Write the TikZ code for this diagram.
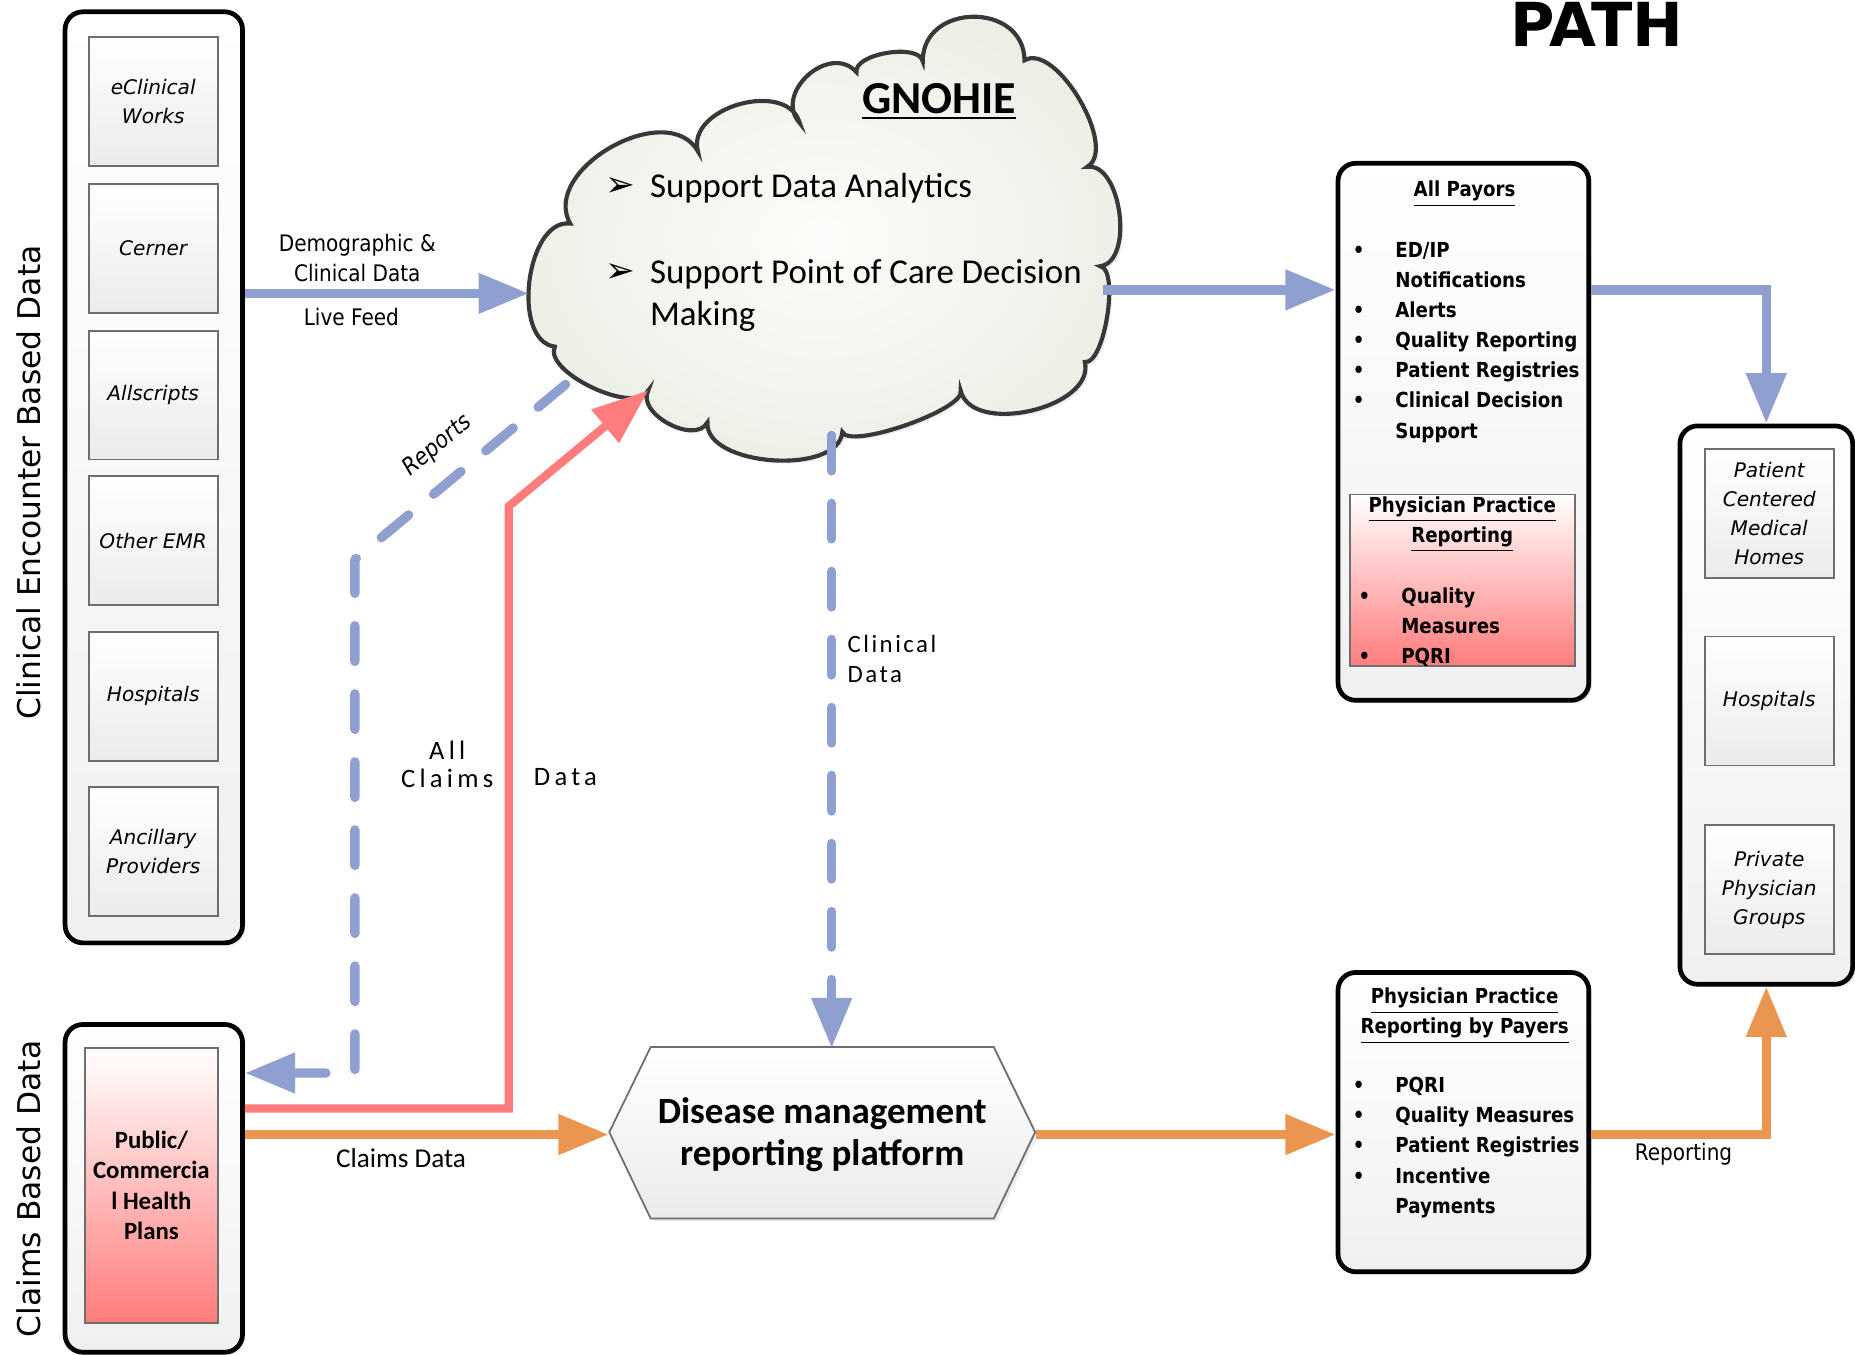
\documentclass[tikz,border=0pt]{standalone}
\usepackage{fontspec}
\setmainfont{Carlito}
\newfontfamily\verdana{DejaVu Sans}
\newfontfamily\tahoma[FakeStretch=0.88]{DejaVu Sans}
\newfontfamily\spaced[LetterSpace=10]{Carlito}
\newfontfamily\spacedwide[LetterSpace=16]{Carlito}
\usetikzlibrary{arrows.meta,fit,shadows}

\definecolor{linkblue}{RGB}{143,160,208}
\definecolor{linkred}{RGB}{255,124,124}
\definecolor{linkorange}{RGB}{235,150,80}
\definecolor{cloudin}{RGB}{252,252,250}
\definecolor{cloudout}{RGB}{236,239,230}
\definecolor{boxline}{RGB}{110,110,110}

% bullet and indent for the box lists
\newcommand{\itemdot}{\makebox[14.4pt][l]{\textbullet}}
\newcommand{\itemgap}{\hspace*{14.4pt}}

\begin{document}
\begin{tikzpicture}[x=0.4pt, y=-0.4pt,
  outerbox/.style={draw=black, line width=1.6pt, rounded corners=6pt, top color=white, bottom color=gray!12, inner sep=0pt, drop shadow={opacity=0.18, shadow xshift=1pt, shadow yshift=-1pt}},
  innerbox/.style={draw=boxline, line width=0.6pt, top color=white, bottom color=gray!16, inner sep=0pt, minimum width=43.6pt, minimum height=43.6pt, align=center, font=\verdana\itshape\fontsize{6.8}{9.8}\selectfont},
  redbox/.style={draw=boxline, line width=0.6pt, top color=white, bottom color=linkred, inner sep=0pt},
  vlabel/.style={font=\verdana\fontsize{10.6}{12}\selectfont, rotate=90},
  headtext/.style={font=\tahoma\bfseries\fontsize{7}{10.2}\selectfont, align=center, inner sep=0pt},
  itemlist/.style={font=\tahoma\bfseries\fontsize{7}{10.2}\selectfont, align=left, inner sep=0pt, anchor=north west},
  linklabel/.style={font=\tahoma\fontsize{7.7}{10.4}\selectfont, align=center, inner sep=0pt},
  spacedlabel/.style={font=\spaced\fontsize{8.4}{10}\selectfont, inner sep=0pt},
  cloudtext/.style={font=\fontsize{11.8}{14}\selectfont, inner sep=0pt},
  cloudarrow/.style={font=\verdana\fontsize{12}{12}\selectfont, inner sep=0pt},
  bluelink/.style={draw=linkblue, line width=3.2pt, -{Triangle[length=17pt,width=13pt]}},
  bluedash/.style={bluelink, dash pattern=on 12pt off 11pt, line cap=round, line join=round},
  redlink/.style={draw=linkred, line width=2.8pt, -{Triangle[length=19pt,width=14pt]}},
  orangelink/.style={draw=linkorange, line width=3.2pt, -{Triangle[length=17pt,width=13pt]}}]

\fill[white] (0,0) rectangle (1568,1145);
\useasboundingbox (0,0) rectangle (1568,1145);

% Title
\node[font=\verdana\bfseries\fontsize{20.5}{21}\selectfont, anchor=base, inner sep=0pt] (title) at (1350,39) {PATH};

% Clinical encounter column
\node[vlabel] (clinside) at (24,408) {Clinical Encounter Based Data};
\node[outerbox, fit={(55,10) (205,797)}] (clinbox) {};
\node[innerbox] (ecw) at (129.5,86) {eClinical\\Works};
\node[innerbox] (cerner) at (129.5,210) {Cerner};
\node[innerbox] (allscripts) at (129.5,334) {Allscripts};
\node[innerbox] (otheremr) at (129.5,457) {Other EMR};
\node[innerbox] (hospitals) at (129.5,588.5) {Hospitals};
\node[innerbox] (ancillary) at (129.5,720) {Ancillary\\Providers};

% Claims column
\node[vlabel] (claimside) at (24,1005) {Claims Based Data};
\node[outerbox, fit={(55,866) (205,1143)}] (claimbox) {};
\node[redbox, minimum width=44.8pt, minimum height=92.8pt, align=center, font=\bfseries\fontsize{8.4}{10.2}\selectfont] (plans) at (128,1002) {Public/\\Commercia\\l Health\\Plans};

% The GNOHIE cloud
\draw[draw=black!78, line width=1.4pt, inner color=cloudin, outer color=cloudout, drop shadow={opacity=0.15, shadow xshift=1pt, shadow yshift=-1pt}] (548,330)
  to[bend left=90, looseness=0.70] (469,293)
  to[bend left=90, looseness=0.92] (482,189)
  to[bend left=90, looseness=1.08] (590,128)
  to[bend left=90, looseness=1.11] (676,104)
  to[bend left=90, looseness=1.35] (724,61)
  to[bend left=90, looseness=0.72] (780,52)
  to[bend left=90, looseness=1.48] (866,51)
  to[bend left=90, looseness=0.76] (919,141)
  to[bend left=90, looseness=0.88] (930,225)
  to[bend left=90, looseness=0.52] (917,306)
  to[bend left=90, looseness=0.95] (812,330)
  to[bend left=90, looseness=0.40] (712,365)
  to[bend left=90, looseness=0.84] (598,357)
  to[bend left=90, looseness=1.00] (548,330) -- cycle;
\coordinate (cloudW) at (447,248);
\coordinate (cloudE) at (932,245);
\coordinate (cloudS) at (703,368);
\coordinate (cloudSW) at (548,330);
\coordinate (cloudRep) at (478,325);
\node[font=\bfseries\fontsize{15.5}{18}\selectfont, anchor=base, inner sep=0pt] (gnohie) at (794,96) {\underline{GNOHIE}};
\node[cloudarrow] (arrowA) at (524,158) {➢};
\node[cloudtext, anchor=base west] (analytics) at (549,167) {Support Data Analytics};
\node[cloudarrow] (arrowB) at (524,231) {➢};
\node[cloudtext, anchor=north west, align=left] (pointcare) at (549,219) {Support Point of Care Decision\\Making};

% Disease management platform
\draw[draw=boxline, line width=0.6pt, top color=white, bottom color=gray!16, drop shadow={opacity=0.15, shadow xshift=1pt, shadow yshift=-1pt}] (515,957) -- (550,885) -- (840,885) -- (875,957) -- (840,1030) -- (550,1030) -- cycle;
\node[minimum width=144pt, minimum height=58pt, inner sep=0pt, align=center, font=\bfseries\fontsize{12.5}{14}\selectfont] (platform) at (695,959) {Disease management\\reporting platform};

% All Payors box
\node[outerbox, fit={(1131,138) (1343,592)}] (payors) {};
\node[headtext] (payhead) at (1238,164) {\underline{All Payors}};
\node[itemlist] (paylist) at (1143,204) {\itemdot ED/IP\\\itemgap Notifications\\\itemdot Alerts\\\itemdot Quality Reporting\\\itemdot Patient Registries\\\itemdot Clinical Decision\\\itemgap Support};
\node[redbox, fit={(1141,418) (1331,563)}] (pprbox) {};
\node[headtext, anchor=north] (pprhead) at (1236,419) {\underline{Physician Practice}\\\underline{Reporting}};
\node[itemlist] (pprlist) at (1148,496) {\itemdot Quality\\\itemgap Measures\\\itemdot PQRI};

% Receiving providers
\node[outerbox, fit={(1420,360) (1566,832)}] (provbox) {};
\node[innerbox] (pcmh) at (1495.5,434) {Patient\\Centered\\Medical\\Homes};
\node[innerbox] (provhosp) at (1495.5,592.5) {Hospitals};
\node[innerbox] (privgroups) at (1495.5,752) {Private\\Physician\\Groups};

% Reporting by payers box
\node[outerbox, fit={(1131,822) (1343,1075)}] (payrep) {};
\node[headtext] (payrephead) at (1238,859) {\underline{Physician Practice}\\\underline{Reporting by Payers}};
\node[itemlist] (payreplist) at (1143,910) {\itemdot PQRI\\\itemdot Quality Measures\\\itemdot Patient Registries\\\itemdot Incentive\\\itemgap Payments};

% Connectors
\draw[bluelink] (clinbox.east |- cloudW) -- (cloudW);
\draw[bluelink] (cloudE) -- (cloudE -| payors.west);
\draw[bluelink] (payors.east |- cloudE) -| (provbox.north);
\draw[bluedash] (cloudS) -- (cloudS |- platform.north);
\coordinate (repbend) at (300,473);
\draw[bluedash] (cloudRep) -- (repbend) |- (claimbox.east |- 0,907);
\coordinate (redbend) at (430,428);
\draw[redlink] (claimbox.east |- 0,937) -| (redbend) -- (cloudSW);
\draw[orangelink] (claimbox.east |- platform.west) -- (platform.west);
\draw[orangelink] (platform.east) -- (platform.east -| payrep.west);
\draw[orangelink] (payrep.east |- platform.east) -| (provbox.south);

% Label the connectors
\node[linklabel] (demolabel) at (302,218) {Demographic \&\\Clinical Data};
\node[linklabel] (livelabel) at (297,268) {Live Feed};
\node[linklabel, rotate=40, font=\tahoma\itshape\fontsize{8}{10}\selectfont] (replabel) at (370,377) {Reports};
\node[spacedlabel, align=center, font=\spacedwide\fontsize{9}{9.4}\selectfont] (allclaims) at (378,646) {All\\Claims};
\node[spacedlabel, font=\spacedwide\fontsize{9}{9.4}\selectfont] (claimsdatalabel) at (478,657) {Data};
\node[spacedlabel, align=left, anchor=west] (clinlabel) at (716,557) {Clinical\\Data};
\node[font=\fontsize{9.2}{11}\selectfont, inner sep=0pt] (claimslabel) at (339,979) {Claims Data};
\node[linklabel] (reportlabel) at (1423,976) {Reporting};
\end{tikzpicture}
\end{document}
